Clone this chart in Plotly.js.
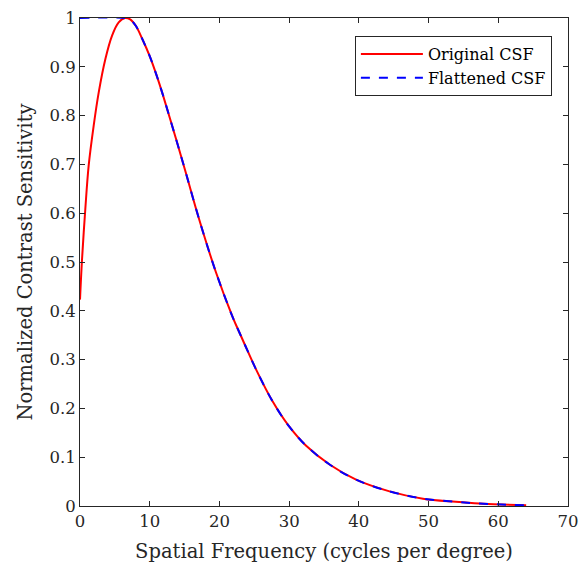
<!DOCTYPE html>
<html>
<head>
<meta charset="utf-8">
<script src="https://cdn.plot.ly/plotly-3.0.1.min.js"></script>
<style>
  html, body { margin: 0; padding: 0; background: #ffffff; }
  #chart { width: 579px; height: 570px; }
</style>
</head>
<body>
<div id="chart"></div>
<script>
// Original CSF
const origFreq = [0, 0.29, 0.76, 1.24, 1.96, 2.68, 3.64, 4.6, 5.55, 6.45, 7.2, 8.0, 9.0, 10.0, 11.0, 11.9, 13.8, 15.2, 17.1, 19.5, 21.9, 22.85, 23.6, 25.25, 27.6, 30.0, 32.4, 35.8, 39.6, 44.4, 49.2, 53.9, 57.3, 60.5, 64.0];
const origCSF  = [0.423, 0.505, 0.608, 0.697, 0.779, 0.847, 0.916, 0.964, 0.991, 1.0, 0.997, 0.984, 0.955, 0.922, 0.882, 0.842, 0.751, 0.682, 0.587, 0.479, 0.387, 0.356, 0.332, 0.280, 0.215, 0.163, 0.124, 0.085, 0.054, 0.030, 0.015, 0.0086, 0.005, 0.003, 0.0015];

// Flattened CSF: held at 1 below the peak, then follows the original
const flatFreq = [0, 6.45, 7.2, 8.0, 9.0, 10.0, 11.0, 11.9, 13.8, 15.2, 17.1, 19.5, 21.9, 22.85, 23.6, 25.25, 27.6, 30.0, 32.4, 35.8, 39.6, 44.4, 49.2, 53.9, 57.3, 60.5, 64.0];
const flatCSF  = [1.0, 1.0, 0.997, 0.984, 0.955, 0.922, 0.882, 0.842, 0.751, 0.682, 0.587, 0.479, 0.387, 0.356, 0.332, 0.280, 0.215, 0.163, 0.124, 0.085, 0.054, 0.030, 0.015, 0.0086, 0.005, 0.003, 0.0015];

const xTicks = [0, 10, 20, 30, 40, 50, 60, 70];
const yTicks = [0, 0.1, 0.2, 0.3, 0.4, 0.5, 0.6, 0.7, 0.8, 0.9, 1];
const yTickText = ['0', '0.1', '0.2', '0.3', '0.4', '0.5', '0.6', '0.7', '0.8', '0.9', '1'];

const SERIF = '"DejaVu Serif", "Liberation Serif", serif';
const INK = '#262626';

const traces = [
  {
    x: origFreq, y: origCSF, name: 'Original CSF', mode: 'lines',
    line: { color: '#ff0000', width: 2, shape: 'spline', smoothing: 1 }
  },
  {
    x: flatFreq, y: flatCSF, name: 'Flattened CSF', mode: 'lines',
    line: { color: '#0000ff', width: 2, dash: 'dash', shape: 'spline', smoothing: 1 }
  }
];

const axisCommon = {
  showgrid: false, zeroline: false, showline: true, mirror: 'ticks',
  linecolor: INK, linewidth: 1, ticks: 'inside', ticklen: 5, tickwidth: 1,
  tickcolor: INK, tickfont: { family: SERIF, size: 16.5, color: INK }
};

const layout = {
  width: 579, height: 570,
  margin: { l: 80, r: 11, t: 18, b: 64 },
  paper_bgcolor: '#ffffff', plot_bgcolor: '#ffffff',
  showlegend: true,
  xaxis: Object.assign({}, axisCommon, {
    range: [0, 70], tickvals: xTicks, ticktext: xTicks.map(String),
    title: { text: 'Spatial Frequency (cycles per degree)', font: { family: SERIF, size: 19.5, color: INK }, standoff: 14 }
  }),
  yaxis: Object.assign({}, axisCommon, {
    range: [0, 1], tickvals: yTicks, ticktext: yTickText,
    title: { text: 'Normalized Contrast Sensitivity', font: { family: SERIF, size: 19.5, color: INK }, standoff: 11 }
  }),
  legend: {
    x: 0.967, y: 0.963, xanchor: 'right', yanchor: 'top',
    bgcolor: '#ffffff', bordercolor: INK, borderwidth: 1,
    font: { family: SERIF, size: 16, color: '#000000' },
    itemwidth: 62, tracegroupgap: 0
  }
};

Plotly.newPlot('chart', traces, layout, { staticPlot: true, displayModeBar: false });
</script>
</body>
</html>
